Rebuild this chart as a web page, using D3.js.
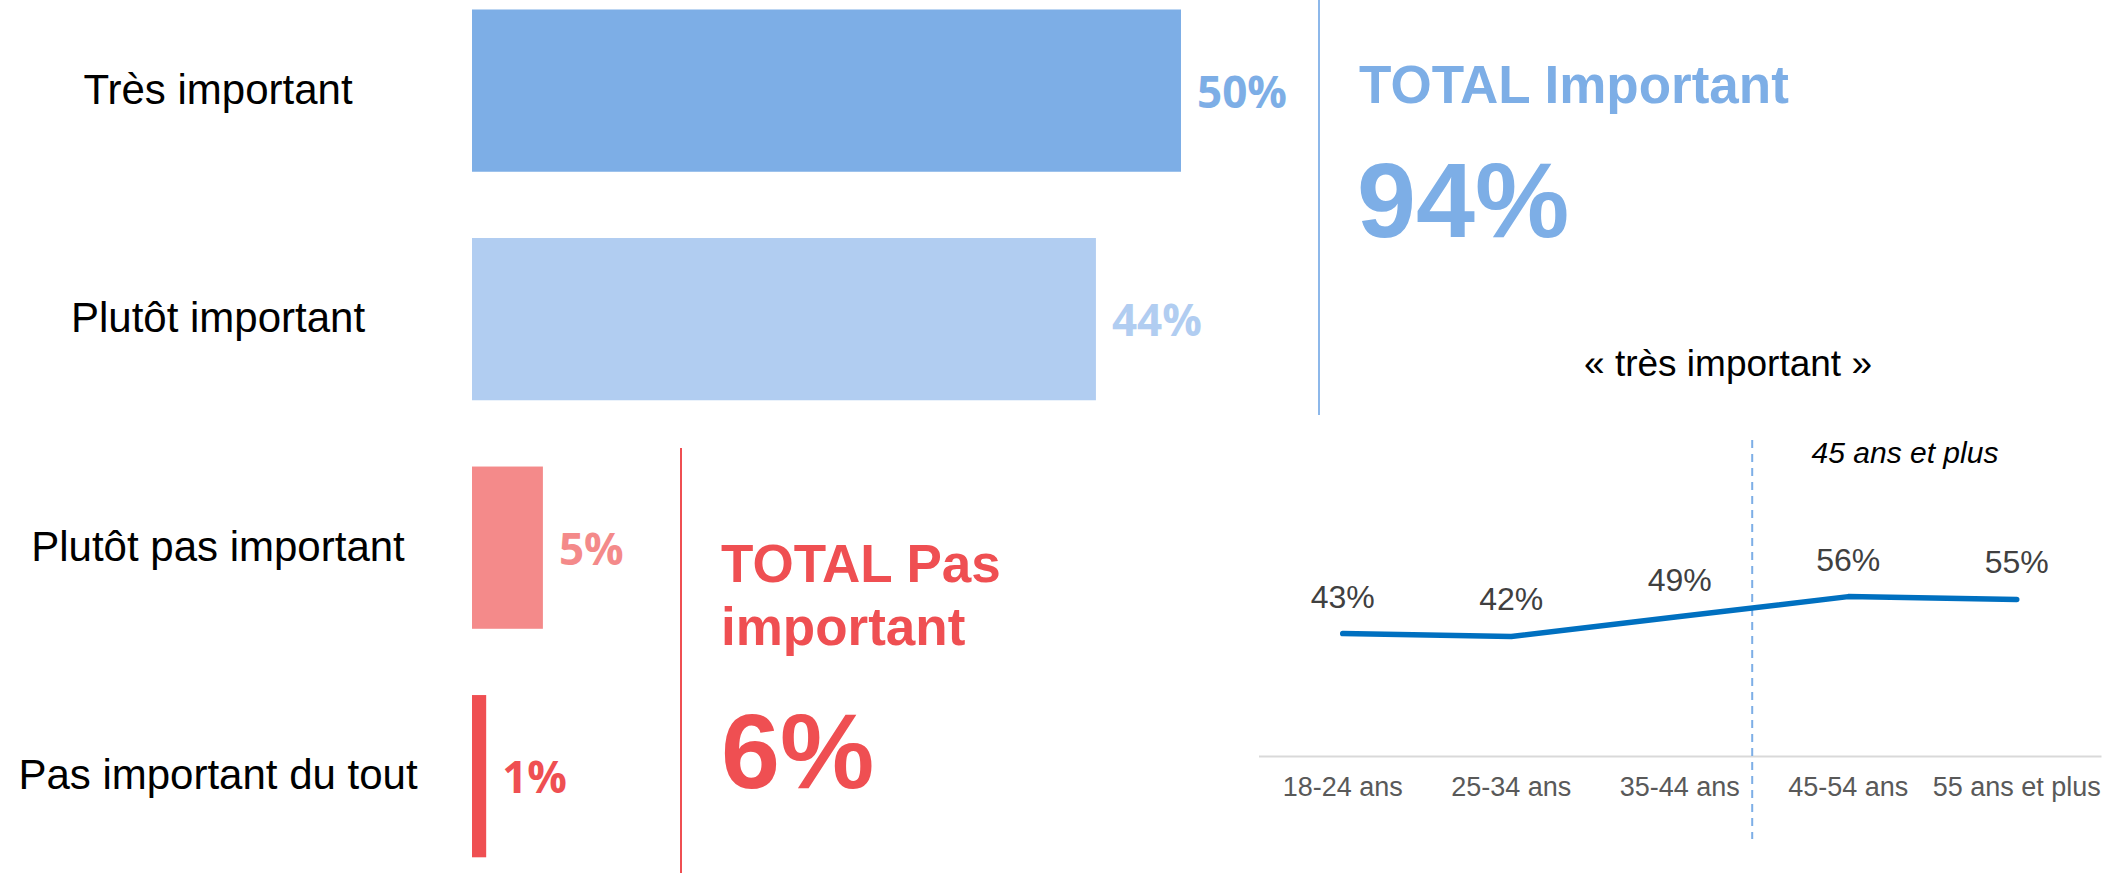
<!DOCTYPE html>
<html>
<head>
<meta charset="utf-8">
<script src="https://cdn.jsdelivr.net/npm/d3@7"></script>
<style>
  html, body { margin: 0; padding: 0; background: #fff; }
  svg { display: block; }
</style>
</head>
<body>
<div id="chart"></div>
<script>
// ---- data ----
const categories = ['Très important', 'Plutôt important', 'Plutôt pas important', 'Pas important du tout'];
const values = [50, 44, 5, 1];
const barColors = ['#7DAEE6', '#B1CDF1', '#F48A8A', '#EF4F52'];

const totalImportant = 94;
const totalPasImportant = 6;

const ageGroups = ['18-24 ans', '25-34 ans', '35-44 ans', '45-54 ans', '55 ans et plus'];
const tresImportant = [43, 42, 49, 56, 55];

const W = 2121, H = 873;
const BLUE = '#7DAEE6', RED = '#EF4F52';
const SANS = 'Liberation Sans, Arial, Helvetica, sans-serif';

const svg = d3.select('#chart').append('svg')
  .attr('width', W).attr('height', H)
  .attr('viewBox', `0 0 ${W} ${H}`);

// ---- horizontal bars ----
const x = d3.scaleLinear().domain([0, 100]).range([472, 472 + 1418]);
const y = d3.scaleBand().domain(categories).range([9.5, 857.3]).paddingInner(0.29).paddingOuter(0);

const rows = categories.map((c, i) => ({ cat: c, v: values[i], color: barColors[i] }));

svg.append('g').selectAll('rect')
  .data(rows).join('rect')
  .attr('x', x(0))
  .attr('y', d => y(d.cat))
  .attr('width', d => x(d.v) - x(0))
  .attr('height', y.bandwidth())
  .attr('fill', d => d.color);

// category labels, centred in the left column
svg.append('g').selectAll('text')
  .data(rows).join('text')
  .attr('x', 218)
  .attr('y', d => y(d.cat) + y.bandwidth() / 2 + 13)
  .attr('text-anchor', 'middle')
  .attr('font-family', SANS)
  .attr('font-size', 42)
  .attr('fill', '#000')
  .text(d => d.cat);

// value labels right of each bar
svg.append('g').selectAll('text')
  .data(rows).join('text')
  .attr('x', d => x(d.v) + 16)
  .attr('y', d => y(d.cat) + y.bandwidth() / 2 + 17)
  .attr('font-family', 'Open Sans, Liberation Sans, sans-serif')
  .attr('font-weight', 700)
  .attr('font-size', 44)
  .attr('fill', d => d.color)
  .text(d => d.v + '%');

// ---- totals ----
svg.append('line')
  .attr('x1', 1319).attr('x2', 1319).attr('y1', 0).attr('y2', 415)
  .attr('stroke', '#8DB8EA').attr('stroke-width', 2);

svg.append('text')
  .attr('x', 1359).attr('y', 103)
  .attr('font-family', SANS).attr('font-weight', 700).attr('font-size', 53)
  .attr('fill', BLUE)
  .text('TOTAL Important');
svg.append('text')
  .attr('x', 1357).attr('y', 237)
  .attr('font-family', SANS).attr('font-weight', 700).attr('font-size', 106)
  .attr('fill', BLUE)
  .text(totalImportant + '%');

svg.append('line')
  .attr('x1', 681).attr('x2', 681).attr('y1', 448).attr('y2', H)
  .attr('stroke', RED).attr('stroke-width', 2);

const pasTitle = svg.append('text')
  .attr('font-family', SANS).attr('font-weight', 700).attr('font-size', 53)
  .attr('fill', RED);
pasTitle.append('tspan').attr('x', 721).attr('y', 582).text('TOTAL Pas');
pasTitle.append('tspan').attr('x', 721).attr('y', 645).text('important');
svg.append('text')
  .attr('x', 721).attr('y', 788)
  .attr('font-family', SANS).attr('font-weight', 700).attr('font-size', 106)
  .attr('fill', RED)
  .text(totalPasImportant + '%');

// ---- line chart: « très important » by age ----
const lx = d3.scaleBand().domain(ageGroups).range([1258.5, 2101]).padding(0);
const ly = d3.scaleLinear().domain([0, 100]).range([756, 471.4]);
const cx = d => lx(d) + lx.bandwidth() / 2;

svg.append('text')
  .attr('x', 1728).attr('y', 376)
  .attr('text-anchor', 'middle')
  .attr('font-family', SANS).attr('font-size', 37)
  .attr('fill', '#000')
  .text('« très important »');

const axisG = svg.append('g')
  .attr('transform', `translate(0, ${ly(0)})`)
  .call(d3.axisBottom(lx).tickSize(0).tickSizeOuter(0).tickPadding(21));
axisG.select('.domain').attr('stroke', '#D9D9D9').attr('stroke-width', 2);
axisG.selectAll('.tick text')
  .attr('font-family', SANS).attr('font-size', 27).attr('fill', '#595959');

// 45+ separator
const sepX = cx('35-44 ans') + lx.step() * 0.43;
svg.append('line')
  .attr('x1', sepX).attr('x2', sepX).attr('y1', 440).attr('y2', 839)
  .attr('stroke', '#7DAEE6').attr('stroke-width', 2)
  .attr('stroke-dasharray', '8 6');
svg.append('text')
  .attr('x', 1905).attr('y', 463)
  .attr('text-anchor', 'middle')
  .attr('font-family', SANS).attr('font-style', 'italic').attr('font-size', 30)
  .attr('fill', '#000')
  .text('45 ans et plus');

const pts = ageGroups.map((a, i) => ({ age: a, v: tresImportant[i] }));
svg.append('path')
  .datum(pts)
  .attr('fill', 'none')
  .attr('stroke', '#0070C0')
  .attr('stroke-width', 5.5)
  .attr('stroke-linecap', 'round')
  .attr('stroke-linejoin', 'round')
  .attr('d', d3.line().x(d => cx(d.age)).y(d => ly(d.v)));

svg.append('g').selectAll('text')
  .data(pts).join('text')
  .attr('x', d => cx(d.age))
  .attr('y', d => ly(d.v) - 26)
  .attr('text-anchor', 'middle')
  .attr('font-family', SANS).attr('font-size', 32)
  .attr('fill', '#404040')
  .text(d => d.v + '%');
</script>
</body>
</html>
